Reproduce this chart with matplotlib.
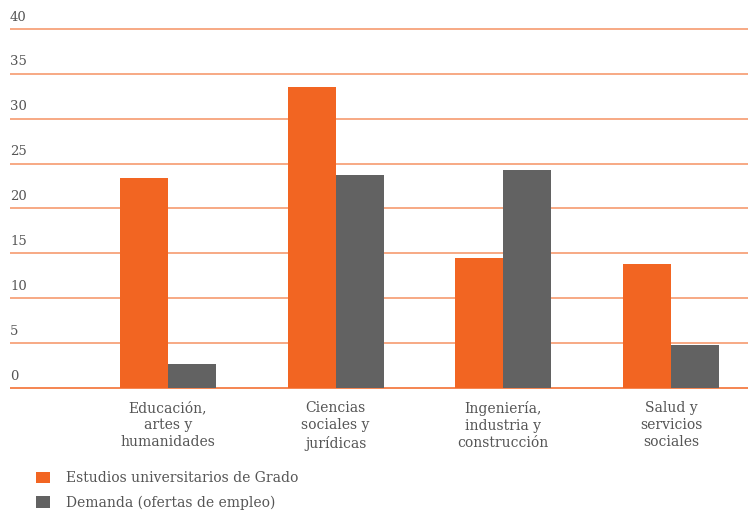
import matplotlib
matplotlib.use("Agg")
import matplotlib.pyplot as plt
import numpy as np

# Categories and values (percent)
categories = ["Educación,\nartes y\nhumanidades",
              "Ciencias\nsociales y\njurídicas",
              "Ingeniería,\nindustria y\nconstrucción",
              "Salud y\nservicios\nsociales"]
grado = [23.4, 33.5, 14.5, 13.8]
demanda = [2.7, 23.7, 24.3, 4.8]
series_names = ["Estudios universitarios de Grado", "Demanda (ofertas de empleo)"]
yticks = [0, 5, 10, 15, 20, 25, 30, 35, 40]

orange = "#F26522"
grey = "#626262"
text_col = "#555555"
plt.rcParams["font.family"] = ["DejaVu Serif"]

fig = plt.figure(figsize=(7.48, 5.11), dpi=100)
ax = fig.add_axes([0.0134, 0.2319, 0.9866, 0.7202])

x = np.arange(len(categories))
w = 0.286
ax.bar(x - w / 2, grado, w, color=orange, label=series_names[0], zorder=2)
ax.bar(x + w / 2, demanda, w, color=grey, label=series_names[1], zorder=2)

# Gridlines with labels sitting above them
for t in yticks:
    ax.axhline(t, color=orange, lw=1.1, alpha=0.7 if t else 1, zorder=1)
    ax.text(0.0, t + 0.6, str(t), transform=ax.get_yaxis_transform(),
            ha="left", va="bottom", fontsize=9.5, color=text_col)

ax.set_xlim(-0.942, 3.459)
ax.set_ylim(-0.5, 40.5)
ax.set_xticks(x)
ax.set_xticklabels(categories, fontsize=10, color=text_col, linespacing=1.3)
ax.tick_params(axis="x", length=0, pad=6)
ax.set_yticks([])
for s in ax.spines.values():
    s.set_visible(False)

fig.legend(loc="upper left", bbox_to_anchor=(0.048, 0.078), frameon=False,
           fontsize=10, labelcolor=text_col, handlelength=1.0, handleheight=0.9,
           handletextpad=1.2, labelspacing=0.72, borderaxespad=0, borderpad=0)

fig.savefig("out.png", dpi=100)
